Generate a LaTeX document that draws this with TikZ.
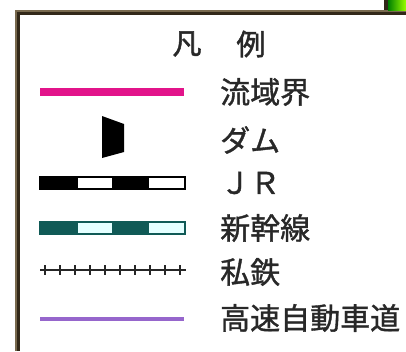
\documentclass[tikz,border=0pt]{standalone}
\usepackage{fontspec}
\newfontfamily\jp[FakeBold=1.2]{Noto Sans CJK JP}
\newfontfamily\jptitle[FakeBold=1.8]{Noto Sans CJK JP}
\definecolor{magentaline}{RGB}{226,20,138}
\definecolor{purpleline}{RGB}{150,102,204}
\definecolor{teal}{RGB}{16,90,86}
\definecolor{lightcyan}{RGB}{228,255,255}
\definecolor{frameouter}{RGB}{120,105,78}
\definecolor{frameinner}{RGB}{50,40,25}
\definecolor{txt}{RGB}{40,40,40}
\tikzset{
  label/.style={anchor=west, inner sep=0pt, text=txt, font=\jp\fontsize{30}{30}\selectfont},
  titletext/.style={inner sep=0pt, text=txt, font=\jptitle\fontsize{29}{29}\selectfont},
  sym/.style={line cap=butt},
}
\begin{document}
\begin{tikzpicture}[x=1pt,y=-1pt]
\useasboundingbox (0,0) rectangle (406,351);
\fill[white] (0,0) rectangle (406,351);
% frame
\fill[frameouter] (15,10) rectangle (406,15);
\fill[frameouter] (15,10) rectangle (20,351);
\fill[frameinner] (17,12) rectangle (406,14.5);
\fill[frameinner] (17,12) rectangle (19.5,351);
% corner picture top-right
\fill[frameinner] (384,0) rectangle (388,10);
\shade[left color=green!50!black, right color=yellow!60!green] (388,0) rectangle (406,10);
% title
\node[titletext] (title1) at (187,44) {凡};
\node[titletext] (title2) at (251,44) {例};
% rows
\coordinate (r1a) at (40,92); \coordinate (r1b) at (184,92);
\draw[magentaline, line width=8pt, sym] (r1a) -- (r1b);
\node[label] (t1) at (220,92) {流域界};
% dam
\fill[black] (102,116) -- (124,124) -- (124,152) -- (102,158) -- cycle;
\node[label] (t2) at (220,140) {ダム};
% JR
\fill[black] (40,177) rectangle (78,189);
\fill[white] (78,177) rectangle (112,189);
\fill[black] (112,177) rectangle (149,189);
\fill[white] (149,177) rectangle (185,189);
\draw[black, line width=1.8pt] (40,177) rectangle (185,189);
\node[label] (t3) at (220,183) {ＪＲ};
% Shinkansen
\fill[teal] (40,222) rectangle (78,234);
\fill[lightcyan] (78,222) rectangle (112,234);
\fill[teal] (112,222) rectangle (149,234);
\fill[lightcyan] (149,222) rectangle (185,234);
\draw[teal, line width=1.8pt] (40,222) rectangle (185,234);
\node[label] (t4) at (220,228) {新幹線};
% private railway
\coordinate (r5a) at (40,270); \coordinate (r5b) at (186,270);
\draw[black!85, line width=1.6pt] (r5a) -- (r5b);
\foreach \x in {45,60,...,180} \draw[black!85, line width=1.5pt] (\x,265) -- (\x,275);
\node[label] (t5) at (220,272) {私鉄};
% highway
\coordinate (r6a) at (40,319); \coordinate (r6b) at (184,319);
\draw[purpleline, line width=4.5pt, sym] (r6a) -- (r6b);
\node[label] (t6) at (220,318) {高速自動車道};
\end{tikzpicture}
\end{document}
